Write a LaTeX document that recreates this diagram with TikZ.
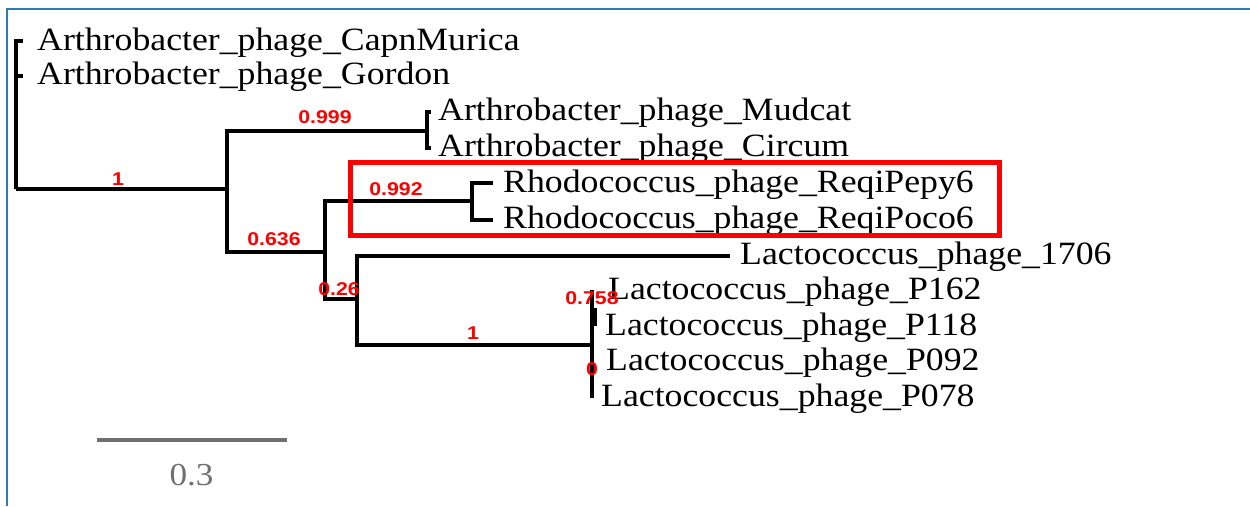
\documentclass[tikz,border=0pt]{standalone}
\usepackage{fontspec}
\setmainfont{Liberation Serif}[FakeStretch=1.1]
\newfontfamily\supfont{Liberation Sans Bold}[FakeStretch=1.15]
\definecolor{framblue}{RGB}{46,125,178}
\definecolor{supred}{RGB}{255,0,0}
\definecolor{scalegray}{RGB}{112,112,112}
\tikzset{
  branch/.style={line width=3.3pt, black, line join=miter},
  taxon/.style={anchor=base west, inner sep=0pt, font=\fontsize{32.5}{36}\selectfont},
  support/.style={inner sep=0pt, text=supred, font=\supfont\fontsize{18.5}{20}\selectfont},
}
\begin{document}
\begin{tikzpicture}[x=1pt,y=-1pt]
\useasboundingbox (0,0) rectangle (1250,506);
\fill[white] (0,0) rectangle (1250,506);
% frame
\draw[framblue, line width=2pt] (7,506) -- (7,9) -- (1250,9);

% internal nodes
\coordinate (root) at (16,189);
\coordinate (A) at (227,189);
\coordinate (nMC) at (427,131);
\coordinate (B) at (325,252);
\coordinate (nRh) at (472,201);
\coordinate (C) at (357,299);
\coordinate (D) at (592,345);

% tips
\coordinate (tCap) at (23,41);
\coordinate (tGor) at (23,76);
\coordinate (tMud) at (431,112);
\coordinate (tCir) at (431,148);
\coordinate (tPepy) at (493,183);
\coordinate (tPoco) at (493,220);
\coordinate (t1706) at (730,256);
\coordinate (tP162) at (592,290);
\coordinate (tP078) at (592,398);
\coordinate (Etop) at (595,308);
\coordinate (Ebot) at (595,326);

% branches
\draw[branch] (tCap) -| (root) |- (tGor);
\draw[branch] (root) -- (A);
\draw[branch] (A) |- (nMC);
\draw[branch] (A) |- (B);
\draw[branch] (tMud) -| (nMC) |- (tCir);
\draw[branch] (B) |- (nRh);
\draw[branch] (B) |- (C);
\draw[branch] (tPepy) -| (nRh) |- (tPoco);
\draw[branch] (C) |- (t1706);
\draw[branch] (C) |- (D);
\draw[branch] (tP162) -- (D) -- (tP078);
\draw[line width=4pt, black] (Etop) -- (Ebot);

% taxa
\node[taxon] (lCap) at (37,50) {Arthrobacter\_phage\_CapnMurica};
\node[taxon] (lGor) at (37,84) {Arthrobacter\_phage\_Gordon};
\node[taxon] (lMud) at (438,120) {Arthrobacter\_phage\_Mudcat};
\node[taxon] (lCir) at (438,156) {Arthrobacter\_phage\_Circum};
\node[taxon] (lPepy) at (503,192) {Rhodococcus\_phage\_ReqiPepy6};
\node[taxon] (lPoco) at (503,228) {Rhodococcus\_phage\_ReqiPoco6};
\node[taxon] (l1706) at (740,264) {Lactococcus\_phage\_1706};
\node[taxon] (lP162) at (608,299) {Lactococcus\_phage\_P162};
\node[taxon] (lP118) at (605,335) {Lactococcus\_phage\_P118};
\node[taxon] (lP092) at (606,370) {Lactococcus\_phage\_P092};
\node[taxon] (lP078) at (601,406) {Lactococcus\_phage\_P078};

% support values
\node[support] (s1) at (118,179) {1};
\node[support] (s999) at (325,117.5) {0.999};
\node[support] (s992) at (396,189) {0.992};
\node[support] (s636) at (274,239) {0.636};
\node[support] (s26) at (339,289) {0.26};
\node[support] (s1b) at (473,333) {1};
\node[support] (s758) at (592,298.5) {0.758};
\node[support] (s0) at (592,369) {0};

% highlight box
\draw[supred, line width=5pt] (350,162.5) rectangle (999.5,235.5);

% scale bar
\coordinate (sbl) at (97,440);
\coordinate (sbr) at (287,440);
\draw[scalegray, line width=3.5pt] (sbl) -- (sbr);
\node[anchor=base, inner sep=0pt, text=scalegray, font=\fontsize{32}{36}\selectfont] (sblab) at (191.5,485) {0.3};
\end{tikzpicture}
\end{document}
